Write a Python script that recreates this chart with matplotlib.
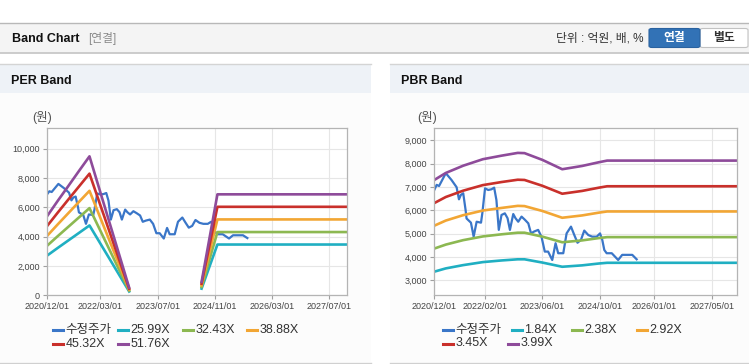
import numpy as np
import pandas as pd
import matplotlib
matplotlib.use('Agg')
import matplotlib.pyplot as plt
from matplotlib.patches import Rectangle, FancyBboxPatch
from matplotlib.lines import Line2D
from matplotlib.ticker import FuncFormatter

plt.rcParams['font.family'] = ['Liberation Sans', 'Noto Sans CJK KR']

# ---- data ----
price_dates = ['2020-12-01', '2020-12-21', '2021-01-10', '2021-03-08', '2021-04-25', '2021-06-07',
               '2021-06-27', '2021-07-13', '2021-08-02', '2021-08-22', '2021-08-30', '2021-10-06',
               '2021-10-29', '2021-11-23', '2021-12-30', '2022-01-10', '2022-02-02', '2022-03-01',
               '2022-03-28', '2022-04-20', '2022-05-09', '2022-05-29', '2022-06-21', '2022-07-19',
               '2022-08-11', '2022-08-31', '2022-09-28', '2022-10-17', '2022-11-09', '2022-12-07',
               '2023-01-05', '2023-02-02', '2023-02-25', '2023-03-23', '2023-04-26', '2023-05-24',
               '2023-06-21', '2023-07-19', '2023-08-23', '2023-09-20', '2023-10-12', '2023-11-24',
               '2023-12-22', '2024-01-28', '2024-02-25', '2024-03-23', '2024-04-21', '2024-05-19',
               '2024-06-22', '2024-07-25', '2024-09-01', '2024-09-29', '2024-10-18', '2024-11-04',
               '2024-11-24', '2025-01-06', '2025-02-03', '2025-03-01', '2025-04-04', '2025-05-25',
               '2025-06-28', '2025-08-04']
price = [6870, 7090, 7040, 7590, 7300, 6990,
         6470, 6660, 6730, 6010, 5650, 5470,
         4870, 5510, 5470, 5870, 6940, 6870,
         6900, 6970, 6440, 5160, 5800, 5870,
         5660, 5160, 5840, 5660, 5510, 5730,
         5590, 5440, 5010, 5090, 5160, 4870,
         4230, 4230, 3870, 4590, 4160, 4160,
         5010, 5300, 4940, 4610, 4730, 5130,
         4940, 4870, 4870, 5010, 4730, 4300,
         4160, 4160, 4010, 3870, 4090, 4090,
         4090, 3900]

per_dates = ['2020-12-01', '2021-03-01', '2021-06-01', '2021-09-01', '2021-11-28', '2022-11-01',
             '2023-09-01', '2024-07-10', '2024-11-22', '2027-12-01']
per_2599 = [2700, 3220, 3740, 4260, 4760, 260, np.nan, 455, 3460, 3460]
per_3243 = [3370, 4020, 4670, 5320, 5940, 320, np.nan, 570, 4310, 4310]
per_3888 = [4040, 4820, 5600, 6380, 7120, 390, np.nan, 680, 5170, 5170]
per_4532 = [4710, 5620, 6530, 7430, 8290, 450, np.nan, 790, 6030, 6030]
per_5176 = [5380, 6420, 7450, 8490, 9470, 520, np.nan, 910, 6880, 6880]
per_labels = ['25.99X', '32.43X', '38.88X', '45.32X', '51.76X']

pbr_dates = ['2020-12-01', '2021-03-08', '2021-08-01', '2022-01-15', '2022-06-20', '2022-11-05',
             '2023-01-01', '2023-06-01', '2023-11-15', '2024-05-01', '2024-09-20', '2024-11-28',
             '2027-12-01']
pbr_184 = [3370, 3510, 3650, 3780, 3850, 3900, 3900, 3760, 3580, 3640, 3720, 3750, 3750]
pbr_238 = [4360, 4530, 4720, 4880, 4970, 5040, 5040, 4870, 4630, 4710, 4810, 4850, 4850]
pbr_292 = [5340, 5560, 5790, 5990, 6100, 6190, 6180, 5970, 5680, 5780, 5900, 5950, 5950]
pbr_345 = [6310, 6570, 6840, 7080, 7210, 7310, 7300, 7050, 6710, 6830, 6970, 7030, 7030]
pbr_399 = [7300, 7600, 7910, 8190, 8340, 8460, 8450, 8160, 7760, 7900, 8060, 8130, 8130]
pbr_labels = ['1.84X', '2.38X', '2.92X', '3.45X', '3.99X']

per_ticks = ['2020/12/01', '2022/03/01', '2023/07/01', '2024/11/01', '2026/03/01', '2027/07/01']
pbr_ticks = ['2020/12/01', '2022/02/01', '2023/06/01', '2024/10/01', '2026/01/01', '2027/05/01']

price_color = '#3a76c8'
band_colors = ['#20afc2', '#8cb851', '#f2a634', '#c9302b', '#8e4b9a']

# ---- figure / page chrome ----
W, H = 749, 364
fig = plt.figure(figsize=(W / 100, H / 100), dpi=100)
fig.patch.set_facecolor('white')


def fx(px):
    return px / W


def fy(py):
    return 1 - py / H


def rect(x0, y0, x1, y1, **kw):
    fig.patches.append(Rectangle((fx(x0), fy(y1)), fx(x1) - fx(x0), fy(y0) - fy(y1),
                                 transform=fig.transFigure, zorder=-10, **kw))


def hline(x0, x1, y, color, lw=1.0):
    fig.add_artist(Line2D([fx(x0), fx(x1)], [fy(y), fy(y)], transform=fig.transFigure,
                          color=color, lw=lw, zorder=-5))


# header bar
rect(0, 22.5, W, 52.5, fc='#f4f4f4', ec='none')
hline(0, W, 22.5, '#b8b8b8')
hline(0, W, 52.5, '#c4c4c4', lw=1.2)
fig.text(fx(12), fy(38.5), 'Band Chart', fontsize=9, fontweight='bold', color='#111', va='center')
fig.text(fx(88), fy(38.5), '[연결]', fontsize=8.5, color='#8a8a8a', va='center')
fig.text(fx(644), fy(38.5), '단위 : 억원, 배, %', fontsize=8.5, color='#333', va='center', ha='right')

fig.patches.append(FancyBboxPatch((fx(700), fy(47.5)), fx(748) - fx(700), fy(28.5) - fy(47.5),
                                  boxstyle='round,pad=0,rounding_size=0.004',
                                  transform=fig.transFigure, fc='white', ec='#c2c2c2', lw=0.8))
fig.patches.append(FancyBboxPatch((fx(649), fy(47.5)), fx(700) - fx(649), fy(28.5) - fy(47.5),
                                  boxstyle='round,pad=0,rounding_size=0.004',
                                  transform=fig.transFigure, fc='#3272b6', ec='#2a62a0', lw=0.8))
fig.text(fx(674.5), fy(38.5), '연결', fontsize=8.5, fontweight='bold', color='white',
         va='center', ha='center')
fig.text(fx(724), fy(38.5), '별도', fontsize=8.5, fontweight='bold', color='#333',
         va='center', ha='center')

# panels
for x0, x1, title in [(0, 371, 'PER Band'), (390, W, 'PBR Band')]:
    rect(x0, 64, x1, 93, fc='#eef2f7', ec='none')
    rect(x0, 93, x1, 362, fc='#fcfcfc', ec='none')
    hline(x0, x1, 64, '#d4d4d4')
    hline(x0, x1, 362.5, '#d0d0d0')
    fig.text(fx(x0 + 11), fy(80.5), title, fontsize=9, fontweight='bold', color='#111', va='center')


def style_axes(ax, ticks, ylim, yticks):
    ax.set_facecolor('white')
    for s in ax.spines.values():
        s.set_color('#b4b4b4')
        s.set_linewidth(0.9)
    tick_dates = pd.to_datetime(ticks, format='%Y/%m/%d')
    ax.set_xticks(tick_dates)
    ax.set_xticklabels(ticks)
    ax.set_xlim(pd.Timestamp('2020-12-01'), pd.Timestamp('2027-12-01'))
    ax.set_ylim(*ylim)
    ax.set_yticks(yticks)
    ax.yaxis.set_major_formatter(FuncFormatter(lambda v, p: f'{int(v):,}'))
    ax.grid(True, color='#e6e6e6', lw=0.8)
    ax.set_axisbelow(True)
    ax.tick_params(length=3, color='#a0a0a0', labelsize=6.5, labelcolor='#444', pad=2)


def draw_legend(xs, ys, labels, colors):
    for x, y, lab, c in zip(xs, ys, labels, colors):
        fig.add_artist(Line2D([fx(x), fx(x + 10)], [fy(y), fy(y)], transform=fig.transFigure,
                              color=c, lw=2.2))
        fig.text(fx(x + 12.5), fy(y), lab, fontsize=9, color='#333', va='center')


# PER band
ax1 = fig.add_axes([fx(47), fy(295.3), fx(347) - fx(47), fy(128.3) - fy(295.3)])
style_axes(ax1, per_ticks, (0, 11380), range(0, 10001, 2000))
pd_per = pd.to_datetime(per_dates)
ax1.plot(pd.to_datetime(price_dates), price, color=price_color, lw=1.6)
for vals, c in zip([per_2599, per_3243, per_3888, per_4532, per_5176], band_colors):
    ax1.plot(pd_per, vals, color=c, lw=1.9)
fig.text(fx(32), fy(117), '(원)', fontsize=9, color='#555', va='center')
draw_legend([53, 118, 183, 247, 53, 118], [330] * 4 + [344] * 2,
            ['수정주가'] + per_labels, [price_color] + band_colors)

# PBR band
ax2 = fig.add_axes([fx(434.3), fy(295.3), fx(737.3) - fx(434.3), fy(128.3) - fy(295.3)])
style_axes(ax2, pbr_ticks, (2357, 9514), range(3000, 9001, 1000))
pd_pbr = pd.to_datetime(pbr_dates)
ax2.plot(pd.to_datetime(price_dates), price, color=price_color, lw=1.6)
for vals, c in zip([pbr_184, pbr_238, pbr_292, pbr_345, pbr_399], band_colors):
    ax2.plot(pd_pbr, vals, color=c, lw=1.9)
fig.text(fx(417), fy(117), '(원)', fontsize=9, color='#555', va='center')
draw_legend([443, 512, 572, 637, 443, 508], [330] * 4 + [343.5] * 2,
            ['수정주가'] + pbr_labels, [price_color] + band_colors)

fig.savefig('out.png', dpi=100)
